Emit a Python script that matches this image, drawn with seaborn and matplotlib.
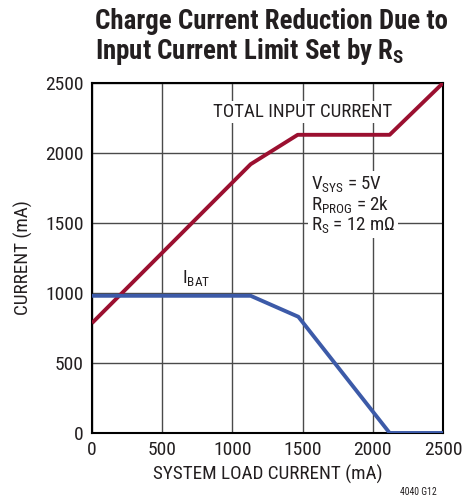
import matplotlib
matplotlib.use("Agg")
import numpy as np
import pandas as pd
import seaborn as sns
import matplotlib.pyplot as plt

# values (mA)
load_total = [0, 1130, 1465, 2120, 2500]
total_input = [785, 1920, 2130, 2130, 2500]
load_bat = [0, 1130, 1470, 2120, 2500]
i_bat = [980, 980, 830, 0, 0]

x_ticks = [0, 500, 1000, 1500, 2000, 2500]
y_ticks = [0, 500, 1000, 1500, 2000, 2500]

df_total = pd.DataFrame({"load": load_total, "current": total_input})
df_bat = pd.DataFrame({"load": load_bat, "current": i_bat})

sns.set_style("white")
font = ["Roboto Condensed", "DejaVu Sans"]
plt.rcParams["font.family"] = font
plt.rcParams["mathtext.fontset"] = "custom"
plt.rcParams["mathtext.rm"] = "Roboto Condensed"
plt.rcParams["mathtext.it"] = "Roboto Condensed"
plt.rcParams["mathtext.bf"] = "Roboto Condensed:bold"

red = "#9b1030"
blue = "#3c5aa8"
txt = "#231f20"

fig = plt.figure(figsize=(4.63, 5.04), dpi=100)
ax = fig.add_axes([0.1987, 0.1409, 0.7581, 0.6944])

ax.set_xlim(0, 2500)
ax.set_ylim(0, 2500)
ax.set_xticks(x_ticks)
ax.set_yticks(y_ticks)
ax.grid(True, color="#4a4a4a", linewidth=1.0, zorder=0)
ax.set_axisbelow(True)

sns.lineplot(data=df_total, x="load", y="current", ax=ax, color=red,
             linewidth=2.8, sort=False, zorder=4, solid_capstyle="butt")
sns.lineplot(data=df_bat, x="load", y="current", ax=ax, color=blue,
             linewidth=2.8, sort=False, zorder=4, solid_capstyle="butt")

for s in ax.spines.values():
    s.set_color("black")
    s.set_linewidth(1.5)
ax.tick_params(axis="both", length=0, pad=6, labelsize=14, labelcolor=txt)

ax.set_xlabel("SYSTEM LOAD CURRENT (mA)", fontsize=13.8, color=txt, labelpad=4)
ax.set_ylabel("CURRENT (mA)", fontsize=13.8, color=txt, labelpad=9)

bbox = dict(facecolor="white", edgecolor="none", pad=1.5)
ax.text(1500, 2290, "TOTAL INPUT CURRENT", ha="center", va="center",
        fontsize=13.6, color=txt, bbox=bbox, zorder=3)
ax.text(640, 1110, r"I$_{\mathrm{BAT}}$", ha="left", va="center",
        fontsize=13.6, color=txt, zorder=3)
ax.text(1560, 1630,
        "V$_{\\mathrm{SYS}}$ = 5V\nR$_{\\mathrm{PROG}}$ = 2k\nR$_{\\mathrm{S}}$ = 12 m\u03a9",
        ha="left", va="center", fontsize=13.6, color=txt, linespacing=1.0,
        bbox=dict(facecolor="white", edgecolor="none", pad=2), zorder=3)

fig.text(0.205, 0.957, "Charge Current Reduction Due to", ha="left", va="center",
         fontsize=19.4, fontweight="bold", color=txt)
fig.text(0.205, 0.897, r"Input Current Limit Set by R$_{\mathbf{S}}$", ha="left",
         va="center", fontsize=19.4, fontweight="bold", color=txt)
fig.text(0.903, 0.024, "4040 G12", ha="center", va="center", fontsize=7, color=txt)

fig.savefig("out.png", dpi=100)
